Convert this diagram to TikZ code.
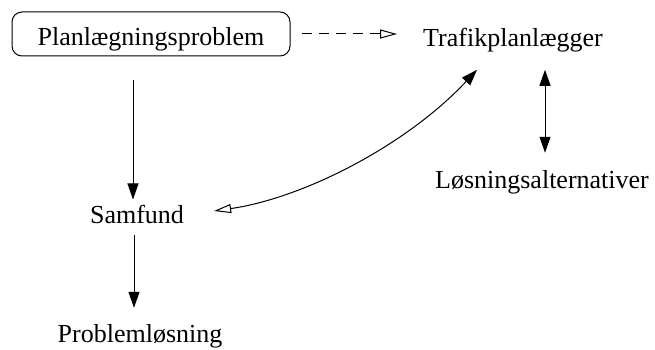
\documentclass[tikz,border=0pt]{standalone}
\usepackage{fontspec}
\setmainfont{Liberation Serif}
\newfontfamily\tnrfont{Liberation Serif}
\usetikzlibrary{arrows.meta,calc}
\begin{document}
\begin{tikzpicture}[x=1pt,y=-1pt,
  lbl/.style={inner sep=0pt,anchor=base,font=\tnrfont\fontsize{26}{30}\selectfont},
  boxed/.style={lbl,draw,line width=1pt,rounded corners=10pt,minimum width=278pt,text height=34pt,text depth=10pt},
  conn/.style={line width=1pt},
  ftip/.tip={Triangle[length=16pt,width=11pt]},
  otip/.tip={Triangle[open,length=17pt,width=9pt]}
]
\useasboundingbox (0,0) rectangle (655,350);
\node[boxed] (box) at (151,46) {Planlægningsproblem};
\node[lbl] (traf) at (513,47) {Trafikplanlægger};
\node[lbl] (los) at (542,188) {Løsningsalternativer};
\node[lbl] (sam) at (137,223) {Samfund};
\node[lbl] (prob) at (140,342) {Problemløsning};
\draw[conn,-ftip] ($(box.south)+(-18,24)$) -- ($(sam.north)+(-4,-5)$);
\draw[conn,-ftip] ($(sam.south)+(-3,12)$) -- ($(prob.north)+(-6,-16)$);
\draw[conn,dash pattern=on 10pt off 7pt,-otip] ($(box.east)+(11,0)$) -- ($(box.east -| traf.west)+(-26,0)$);
\draw[conn,ftip-ftip] ($(traf.south)+(32,17)$) -- ($(los.north)+(3,-17)$);
\draw[conn,otip-ftip] ($(sam.east)+(30,-3)$) .. controls +(90,-13) and +(-70,75) .. ($(traf.south)+(-36,17)$);
\end{tikzpicture}
\end{document}
